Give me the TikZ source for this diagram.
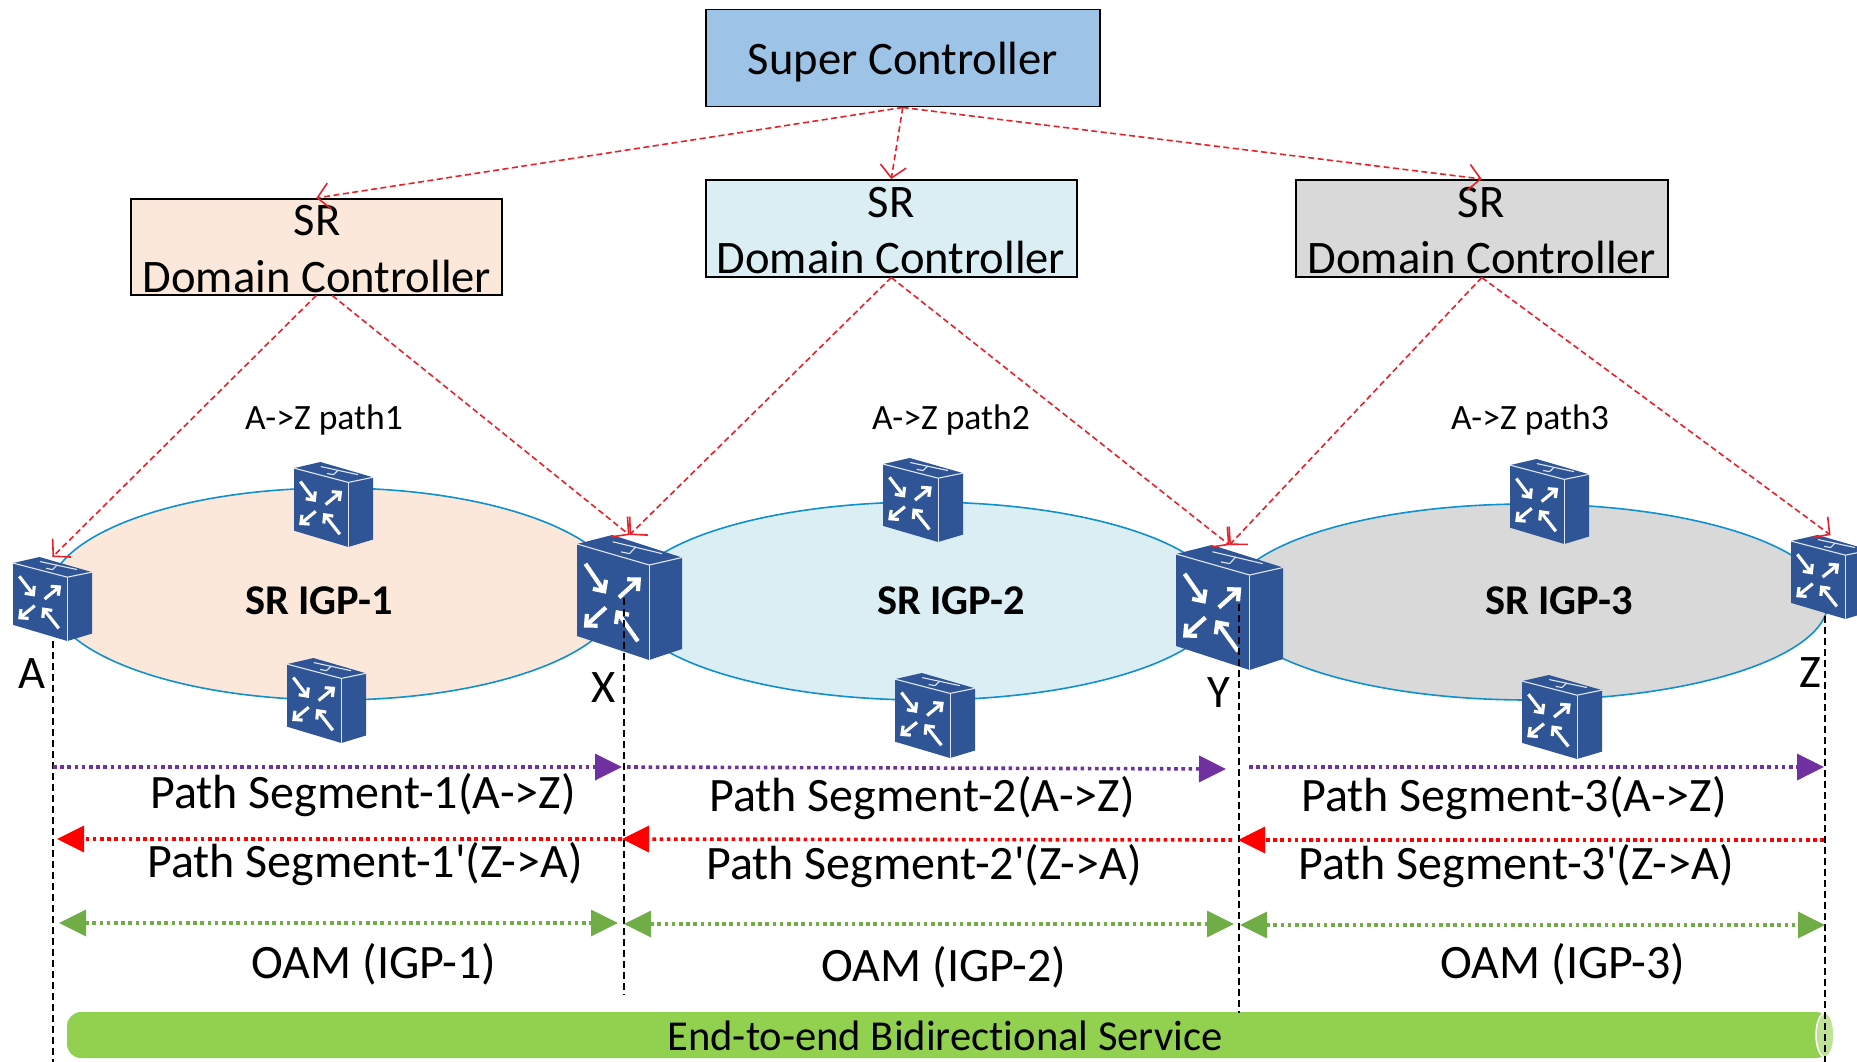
\documentclass[tikz,border=0pt]{standalone}
\usepackage{fontspec}
\setmainfont[Ligatures=NoCommon]{Carlito}
\usetikzlibrary{arrows.meta,calc}
\definecolor{rblue}{HTML}{2F5597}
\definecolor{redl}{HTML}{E8202A}
\definecolor{ring}{HTML}{0F90CF}
\definecolor{peach}{HTML}{FCE8DA}
\definecolor{pale}{HTML}{DAEEF3}
\definecolor{grayf}{HTML}{D9D9D9}
\definecolor{purp}{HTML}{7030A0}
\definecolor{grn}{HTML}{70AD47}
\definecolor{bar}{HTML}{92D050}
\definecolor{sky}{HTML}{9DC3E6}
\tikzset{
  boxs/.style={draw=black,line width=1.5pt,inner sep=0pt},
  igp/.style={draw=ring,line width=1.6pt},
  ctrl/.style={draw=redl,line width=1.6pt,dash pattern=on 6pt off 3.5pt,-{Straight Barb[length=12pt,width=26pt,line width=1.6pt]}},
  drop/.style={draw=black,line width=1.5pt,dash pattern=on 7pt off 4pt},
  dotline/.style={line width=3.6pt,dash pattern=on 3.6pt off 3.6pt},
  seg/.style={dotline,draw=purp,-{Triangle[length=27pt,width=26pt,color=purp]}},
  back/.style={dotline,draw=red,-{Triangle[length=27pt,width=26pt,color=red]}},
  oam/.style={dotline,line width=3.2pt,draw=grn,{Triangle[length=27pt,width=26pt,color=grn]}-{Triangle[length=27pt,width=26pt,color=grn]}},
  big/.style={font=\fontsize{46.6}{50}\selectfont,inner sep=0pt},
  seglabel/.style={font=\fontsize{48}{52}\selectfont,inner sep=0pt},
  small/.style={font=\fontsize{35.6}{38}\selectfont,inner sep=0pt},
  bold/.style={font=\fontsize{42.4}{45}\selectfont\bfseries,inner sep=0pt},
  wline/.style={draw=white!85!rblue,line width=1.1pt},
}
\newcommand{\router}[5]{%
  \node[inner sep=0pt,outer sep=0pt,minimum width=#4pt,minimum height=#5pt,anchor=north west] (#1) at (#2,#3) {};
  \begin{scope}[shift={(#2,#3)},x=#4pt,y=-#5pt]
    \fill[rblue] (0,.072) -- (.335,0) -- (1,.18) -- (1,.912) -- (.688,1) -- (0,.808) -- cycle;
    \draw[wline] (0,.072) -- (.688,.24) -- (1,.18);
    \draw[wline] (.688,.24) -- (.688,1);
    \draw[wline] (.34,.054) -- (.81,.149);
    \draw[wline] (.56,.095) -- (.5,.149) (.42,.135) -- (.5,.149);
    \begin{scope}[draw=white,line width=#4*0.04pt,-{Straight Barb[length=0pt 2,width=0pt 3.8]}]
      \draw (.08,.23) -- (.275,.47);
      \draw (.40,.50) -- (.61,.34);
      \draw (.275,.58) -- (.065,.74);
      \draw (.58,.85) -- (.37,.60);
    \end{scope}
  \end{scope}}
\begin{document}
\begin{tikzpicture}[x=1pt,y=-1pt]
\clip (0,0) rectangle (1857,1062);
\fill[white] (0,0) rectangle (1857,1062);
% rings
\draw[igp,fill=peach] (335,594) ellipse [x radius=286,y radius=106];
\draw[igp,fill=pale] (924,601) ellipse [x radius=298,y radius=99];
\draw[igp,fill=grayf] (1528,602) ellipse [x radius=300,y radius=98];
% controllers
\node[boxs,fill=sky,minimum width=394pt,minimum height=97pt,anchor=north west] (sc) at (705,9) {};
\node[big] (sct) at (903,62) {Super Controller};
\node[boxs,fill=peach,minimum width=371pt,minimum height=96pt,anchor=north west] (d1) at (130,198) {};
\node[boxs,fill=pale,minimum width=371pt,minimum height=97pt,anchor=north west] (d2) at (705,179) {};
\node[boxs,fill=grayf,minimum width=372pt,minimum height=97pt,anchor=north west] (d3) at (1295,179) {};
\node[big] (d1a) at (317,221) {SR};
\node[big] (d1b) at (317,276) {Domain Controller};
\node[big] (d2a) at (891,203) {SR};
\node[big] (d2b) at (891,257) {Domain Controller};
\node[big] (d3a) at (1481,203) {SR};
\node[big] (d3b) at (1482,257) {Domain Controller};
% routers
\router{A}{13}{557}{79}{84}
\router{r1t}{294}{462}{79}{85}
\router{r1b}{287}{658}{79}{85}
\router{X}{577}{535}{105}{125}
\router{r2t}{883}{458}{80}{84}
\router{r2b}{895}{673}{80}{85}
\router{Y}{1176}{545}{107}{125}
\router{r3t}{1510}{459}{79}{85}
\router{r3b}{1522}{675}{80}{84}
\router{Z}{1791}{535}{79}{84}
% control arrows
\coordinate (d1x) at ($(d1.south)+(16,0)$);
\draw[ctrl] (sc.south) -- (d1.north);
\draw[ctrl] (sc.south) -- (d2.north);
\draw[ctrl] (sc.south) -- (d3.north);
\draw[ctrl] (d1.south) -- (A.north);
\draw[ctrl] (d1x) -- (X.north);
\draw[ctrl] (d2.south) -- (X.north);
\draw[ctrl] (d2.south) -- (Y.north);
\draw[ctrl] (d3.south) -- (Y.north);
\draw[ctrl] (d3.south) -- (Z.north);
% labels
\node[small] (p1) at (324,420) {A->Z path1};
\node[small] (p2) at (951,420) {A->Z path2};
\node[small] (p3) at (1530,420) {A->Z path3};
\node[bold] (i1) at (319,601) {SR IGP-1};
\node[bold] (i2) at (951,601) {SR IGP-2};
\node[bold] (i3) at (1559,601) {SR IGP-3};
\node[big] (la) at (32,674) {A};
\node[big] (lx) at (604,688) {X};
\node[big] (ly) at (1219,693) {Y};
\node[big] (lz) at (1810,673) {Z};
% end-to-end bar
\fill[bar,rounded corners=14pt] (67,1012) rectangle (1830,1058);
\draw[white,line width=1.5pt,fill=bar!60!white] (1825,1035) ellipse [x radius=9,y radius=22];
\node[font=\fontsize{42.6}{46}\selectfont,inner sep=0pt] (bart) at (945,1036) {End-to-end Bidirectional Service};
% vertical drops
\coordinate (va) at (53,641);  \coordinate (vab) at (53,1062);
\coordinate (vx) at (624,598); \coordinate (vxb) at (624,995);
\coordinate (vy) at (1239,604);\coordinate (vyb) at (1239,1013);
\coordinate (vz) at (1825,616);\coordinate (vzb) at (1825,1062);
\draw[drop] (va) -- (vab);
\draw[drop] (vx) -- (vxb);
\draw[drop] (vy) -- (vyb);
\draw[drop] (vz) -- (vzb);
% segments
\coordinate (sa) at (53,767);   \coordinate (sb) at (622,767);
\coordinate (sc1) at (627,767); \coordinate (sd) at (1226,769);
\coordinate (se) at (1249,767); \coordinate (sf) at (1824,767);
\draw[seg] (sa) -- (sb);
\draw[seg] (sc1) -- (sd);
\draw[seg] (se) -- (sf);
\coordinate (ra) at (57,839);   \coordinate (rb) at (622,839);
\coordinate (rc) at (622,839);  \coordinate (rd) at (1232,840);
\coordinate (re) at (1238,840); \coordinate (rf) at (1824,840);
\draw[back] (rb) -- (ra);
\draw[back] (rd) -- (rc);
\draw[back] (rf) -- (re);
\coordinate (oa) at (59,923);   \coordinate (ob) at (618,923);
\coordinate (oc) at (624,924);  \coordinate (od) at (1234,924);
\coordinate (oe) at (1240,925); \coordinate (of) at (1825,925);
\draw[oam] (oa) -- (ob);
\draw[oam] (oc) -- (od);
\draw[oam] (oe) -- (of);
% segment labels
\node[seglabel] (t1) at (363,795) {Path Segment-1(A->Z)};
\node[seglabel] (t2) at (922,798) {Path Segment-2(A->Z)};
\node[seglabel] (t3) at (1514,798) {Path Segment-3(A->Z)};
\node[seglabel] (u1) at (365,864) {Path Segment-1\textquotesingle(Z->A)};
\node[seglabel] (u2) at (924,866) {Path Segment-2\textquotesingle(Z->A)};
\node[seglabel] (u3) at (1516,866) {Path Segment-3\textquotesingle(Z->A)};
\node[seglabel] (o1) at (374,964) {OAM (IGP-1)};
\node[seglabel] (o2) at (944,967) {OAM (IGP-2)};
\node[seglabel] (o3) at (1563,964) {OAM (IGP-3)};
\end{tikzpicture}
\end{document}
